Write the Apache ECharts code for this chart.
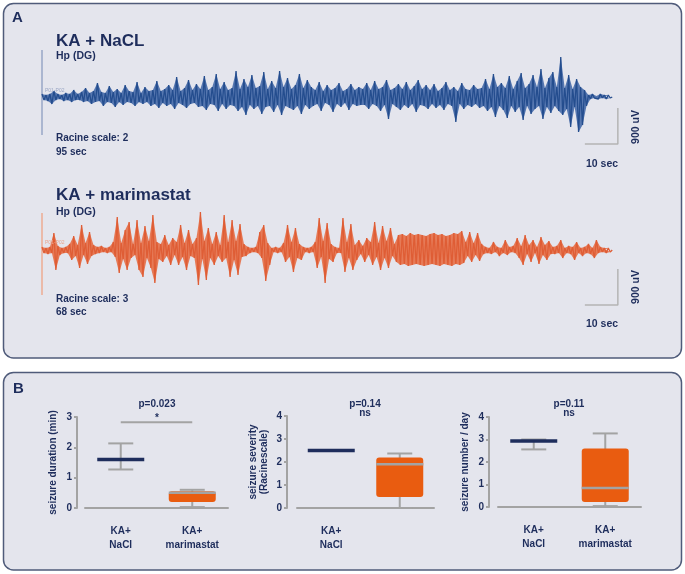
<!DOCTYPE html>
<html><head><meta charset="utf-8">
<script src="https://cdn.jsdelivr.net/npm/echarts@6/dist/echarts.min.js"></script>
<style>html,body{margin:0;padding:0;background:#fff}#c{width:685px;height:574px}</style>
</head><body><div id="c"></div>
<script>
// ---- Panel A: EEG peaks (uV), one column every 1.2 s ----
const blueUp = [75,50,75,150,75,50,100,75,175,75,
125,225,100,150,350,125,100,275,125,200,
100,300,150,125,375,100,250,150,
175,400,150,200,300,175,500,150,225,425,175,325,
200,525,175,250,575,200,375,175,
225,650,200,450,250,550,225,275,625,200,400,225,650,250,475,200,300,575,225,425,250,
175,375,150,300,175,225,350,150,200,325,175,250,
200,350,175,400,200,250,425,175,225,325,200,375,175,275,425,200,300,
175,325,150,225,375,175,250,150,350,200,175,300,200,
225,450,200,575,250,350,225,525,200,400,600,225,325,550,250,700,225,475,625,250,
1000,
225,550,200,450,250,175,
50,75,25,75,50,50];
const blueDown = [75,100,175,75,50,100,75,125,75,75,
125,100,175,125,100,225,125,150,250,125,
200,125,150,225,125,175,125,225,
175,275,150,225,175,300,150,200,275,175,150,250,
225,325,175,200,350,175,300,200,
225,350,250,450,200,300,225,425,250,225,375,200,450,225,275,325,225,425,200,300,225,
175,350,150,200,375,175,250,150,325,175,225,200,
200,300,175,225,350,200,550,175,250,325,200,275,175,375,200,225,300,
175,275,200,325,175,225,625,175,300,200,250,175,275,
225,350,250,500,225,325,525,225,375,250,575,225,425,300,225,550,250,400,225,350,
450,
300,750,250,875,700,225,
50,25,50,25,50,25];
const orangeUp = [75,50,75,425,100,50,75,
150,350,125,625,175,450,125,
75,100,50,75,
200,825,175,500,700,150,
750,175,600,225,
875,200,
150,375,125,300,
200,625,175,500,150,
300,950,225,550,
150,450,125,
875,200,750,225,650,150,
75,50,75,
450,625,175,
50,75,50,
175,625,200,550,150,
75,50,75,
200,800,225,675,150,
75,50,
800,200,650,
125,250,100,300,
200,700,175,600,225,550,150,
375,400,350,425,375,400,375,350,400,425,375,400,350,375,425,400,
475,200,450,175,425,150,
75,50,200,75,50,250,75,100,
300,100,375,125,250,75,325,125,225,
75,100,250,50,100,75,200,50,75,150,50,250,75,50,50];
const orangeDown = [75,100,75,500,125,75,75,
250,150,450,125,350,150,100,
75,50,75,50,
175,575,225,500,200,125,
500,675,200,450,
825,225,
300,150,375,125,
375,175,500,150,200,
875,225,750,200,
375,150,300,
200,675,250,625,175,150,
75,50,75,
200,775,375,
50,75,50,
300,175,550,200,250,
50,75,50,
450,175,825,225,300,
75,75,
550,200,500,
250,100,300,125,
375,175,500,200,450,150,300,
375,350,400,375,350,375,400,375,350,375,400,350,375,400,350,375,
325,150,300,125,275,100,
75,100,50,150,75,125,50,75,
200,375,100,300,75,350,125,250,100,
100,75,200,75,100,250,75,150,75,100,200,75,50,75,50];
const COLUMN_SEC = 1.2;
const scaleBarSec = 10, scaleBarUV = 900;

// ---- Panel B: group statistics [category, min, q1, median, q3, max] ----
const groups = ['KA+\nNaCl', 'KA+\nmarimastat'];
const durationStats = [[0, 1.27, 1.6, 1.6, 1.6, 2.13], [1, 0.03, 0.2, 0.5, 0.55, 0.6]];
const severityStats = [[0, 2.5, 2.5, 2.5, 2.5, 2.5], [1, 0, 0.48, 1.9, 2.2, 2.37]];
const numberStats   = [[0, 2.56, 2.93, 2.93, 2.93, 3.0], [1, 0.04, 0.22, 0.84, 2.6, 3.27]];
const durationSigY = 2.83;

const NAVY = '#1e2d5c', GRAY = '#a3a3a3', BOXO = '#e95c10';
const FONT = '"Liberation Sans", Arial, sans-serif';

function trace(up, down) {
  const pts = [];
  for (let i = 0; i < up.length; i++) {
    const t = i * COLUMN_SEC;
    pts.push([t, up[i]]);
    pts.push([t + COLUMN_SEC / 2, -down[i]]);
  }
  pts.push([up.length * COLUMN_SEC, 0]);
  return pts;
}
function envelope(vals, sign, shift) {
  return vals.map((v, i) => [i * COLUMN_SEC + shift, sign * v]);
}

const chart = echarts.init(document.getElementById('c'), null, {renderer: 'canvas'});

function txt(x, y, s, size, opts) {
  opts = opts || {};
  return {type: 'text', x: x, y: y, z: 100, rotation: opts.rot || 0,
    style: {text: s, fontSize: size, fontWeight: opts.weight || 'bold', fontFamily: FONT,
      fill: opts.color || NAVY, align: opts.align || 'left', verticalAlign: 'middle',
      textAlign: opts.align || 'left', textVerticalAlign: 'middle'}};
}

function boxRender(params, api) {
  const c = api.value(0);
  const x = api.coord([c, 0])[0];
  const y = i => api.coord([c, api.value(i)])[1];
  const yMin = y(1), yQ1 = y(2), yMed = y(3), yQ3 = y(4), yMax = y(5);
  const halfBox = 23.5, halfCap = 12.5;
  const isNaCl = c === 0;
  const ch = [];
  const line = (x1, y1, x2, y2, color, w) => ({type: 'line', shape: {x1, y1, x2, y2}, style: {stroke: color, lineWidth: w}});
  ch.push(line(x, yMin, x, yMax, GRAY, 2));
  ch.push(line(x - halfCap, yMin, x + halfCap, yMin, GRAY, 2));
  ch.push(line(x - halfCap, yMax, x + halfCap, yMax, GRAY, 2));
  if (yQ1 - yQ3 > 0.5) {
    ch.push({type: 'rect', shape: {x: x - halfBox, y: yQ3, width: 2 * halfBox, height: yQ1 - yQ3, r: 3}, style: {fill: BOXO}});
  }
  ch.push(line(x - halfBox, yMed, x + halfBox, yMed, isNaCl ? NAVY : GRAY, isNaCl ? 3.5 : 2.5));
  return {type: 'group', children: ch};
}

function bAxisX(gi) {
  return {gridIndex: gi, type: 'category', data: groups, offset: 10,
    axisLine: {lineStyle: {color: GRAY, width: 2}},
    axisTick: {alignWithLabel: true, length: 4, lineStyle: {color: GRAY, width: 2}},
    axisLabel: {color: NAVY, fontWeight: 'bold', fontSize: 10, fontFamily: FONT, lineHeight: 14, margin: 6}};
}
function bAxisY(gi, max, name, off, gap) {
  return {gridIndex: gi, type: 'value', min: 0, max: max, interval: 1, offset: off,
    name: name, nameLocation: 'middle', nameRotate: 90, nameGap: gap,
    nameTextStyle: {color: NAVY, fontWeight: 'bold', fontSize: 10, fontFamily: FONT, lineHeight: 11},
    splitLine: {show: false},
    axisLine: {show: true, lineStyle: {color: GRAY, width: 2}},
    axisTick: {show: true, length: 3, lineStyle: {color: GRAY, width: 2}},
    axisLabel: {color: NAVY, fontWeight: 'bold', fontSize: 10, fontFamily: FONT, margin: 5}};
}
function areaSeries(idx, data, color) {
  return {type: 'line', xAxisIndex: idx, yAxisIndex: idx, data: data, showSymbol: false,
    lineStyle: {width: 0}, areaStyle: {color: color, opacity: 1}, silent: true};
}

const option = {
  backgroundColor: '#ffffff',
  animation: false,
  grid: [
    {left: 42, width: 594, top: 23, height: 148},
    {left: 42, width: 594, top: 176, height: 148},
    {left: 85, width: 143, top: 417, height: 91},
    {left: 297, width: 137, top: 416, height: 92},
    {left: 498, width: 143, top: 417, height: 90}
  ],
  xAxis: [
    {gridIndex: 0, type: 'value', min: 0, max: 180, show: false},
    {gridIndex: 1, type: 'value', min: 0, max: 180, show: false},
    bAxisX(2), bAxisX(3), bAxisX(4)
  ],
  yAxis: [
    {gridIndex: 0, type: 'value', min: -1850, max: 1850, show: false},
    {gridIndex: 1, type: 'value', min: -1850, max: 1850, show: false},
    bAxisY(2, 3, 'seizure duration (min)', 8, 18),
    bAxisY(3, 4, 'seizure severity\n(Racinescale)', 10, 17),
    bAxisY(4, 4, 'seizure number / day', 9, 18)
  ],
  series: [
    {type: 'line', xAxisIndex: 0, yAxisIndex: 0, data: [[0, 1175], [0, -950]], showSymbol: false, lineStyle: {color: '#98a6c6', width: 1.5}, silent: true},
    areaSeries(0, envelope(blueUp, 1, 0), '#5677b0'),
    areaSeries(0, envelope(blueDown, -1, COLUMN_SEC / 2), '#5677b0'),
    {type: 'line', xAxisIndex: 0, yAxisIndex: 0, data: trace(blueUp, blueDown), showSymbol: false, lineStyle: {color: '#244d8e', width: 1.3}, silent: true},
    {type: 'line', xAxisIndex: 0, yAxisIndex: 0, data: [[174.5 - scaleBarSec, -1175], [174.5, -1175], [174.5, -1175 + scaleBarUV]], showSymbol: false, lineStyle: {color: '#b4b4b4', width: 1.5}, silent: true},
    {type: 'line', xAxisIndex: 1, yAxisIndex: 1, data: [[0, 925], [0, -1125]], showSymbol: false, lineStyle: {color: '#eeab92', width: 1.5}, silent: true},
    areaSeries(1, envelope(orangeUp, 1, 0), '#e67a57'),
    areaSeries(1, envelope(orangeDown, -1, COLUMN_SEC / 2), '#e67a57'),
    {type: 'line', xAxisIndex: 1, yAxisIndex: 1, data: trace(orangeUp, orangeDown), showSymbol: false, lineStyle: {color: '#df5d35', width: 1.3}, silent: true},
    {type: 'line', xAxisIndex: 1, yAxisIndex: 1, data: [[174.5 - scaleBarSec, -1375], [174.5, -1375], [174.5, -1375 + scaleBarUV]], showSymbol: false, lineStyle: {color: '#b4b4b4', width: 1.5}, silent: true},
    {type: 'custom', xAxisIndex: 2, yAxisIndex: 2, data: durationStats, renderItem: boxRender, encode: {x: 0, y: [1, 2, 3, 4, 5]}, silent: true},
    {type: 'line', xAxisIndex: 2, yAxisIndex: 2, data: [[0, durationSigY], [1, durationSigY]], showSymbol: false, lineStyle: {color: GRAY, width: 2}, silent: true},
    {type: 'custom', xAxisIndex: 3, yAxisIndex: 3, data: severityStats, renderItem: boxRender, encode: {x: 0, y: [1, 2, 3, 4, 5]}, silent: true},
    {type: 'custom', xAxisIndex: 4, yAxisIndex: 4, data: numberStats, renderItem: boxRender, encode: {x: 0, y: [1, 2, 3, 4, 5]}, silent: true}
  ],
  graphic: [
    {type: 'rect', z: -1, shape: {x: 3.5, y: 3.5, width: 678, height: 354.5, r: 10}, style: {fill: '#e4e5ed', stroke: '#4f5b7a', lineWidth: 1.5}},
    {type: 'rect', z: -1, shape: {x: 3.5, y: 372.5, width: 678, height: 197.5, r: 10}, style: {fill: '#e4e5ed', stroke: '#4f5b7a', lineWidth: 1.5}},
    txt(12, 18, 'A', 15),
    txt(56, 41, 'KA + NaCL', 17),
    txt(56, 56, 'Hp (DG)', 10.5),
    txt(45, 91, 'P01-P02', 5, {weight: 'normal', color: '#9aa6c4'}),
    txt(56, 138, 'Racine scale: 2', 10),
    txt(56, 152, '95 sec', 10),
    txt(602, 164, '10 sec', 10.5, {align: 'center'}),
    txt(636, 127, '900 uV', 10.5, {align: 'center', rot: Math.PI / 2}),
    txt(56, 195, 'KA + marimastat', 17),
    txt(56, 212, 'Hp (DG)', 10.5),
    txt(45, 243, 'P01-P02', 5, {weight: 'normal', color: '#eaa58e'}),
    txt(56, 299, 'Racine scale: 3', 10),
    txt(56, 312, '68 sec', 10),
    txt(602, 324, '10 sec', 10.5, {align: 'center'}),
    txt(636, 287, '900 uV', 10.5, {align: 'center', rot: Math.PI / 2}),
    txt(13, 389, 'B', 15),
    txt(157, 404, 'p=0.023', 10, {align: 'center'}),
    txt(157, 418, '*', 10, {align: 'center'}),
    txt(365, 404, 'p=0.14', 10, {align: 'center'}),
    txt(365, 413, 'ns', 10, {align: 'center'}),
    txt(569, 404, 'p=0.11', 10, {align: 'center'}),
    txt(569, 413, 'ns', 10, {align: 'center'})
  ]
};
chart.setOption(option);
</script>
</body></html>
